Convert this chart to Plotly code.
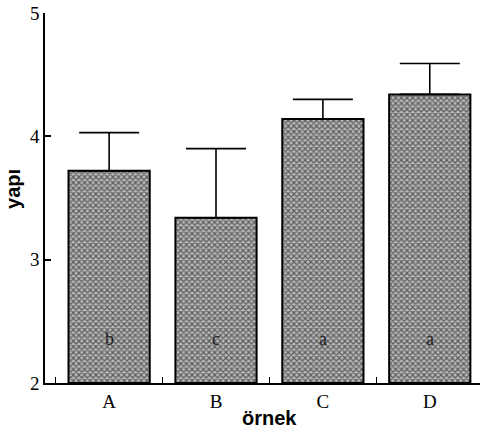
import plotly.graph_objects as go

categories = ["A", "B", "C", "D"]
means = [3.72, 3.34, 4.14, 4.34]
err_plus = [0.31, 0.56, 0.16, 0.25]
letters = ["b", "c", "a", "a"]
y_ticks = [2, 3, 4, 5]

fig = go.Figure()
fig.add_trace(go.Bar(
    x=categories, y=[m - 2 for m in means], base=2,
    width=0.76,
    marker=dict(
        color="white",
        line=dict(color="black", width=2),
        pattern=dict(shape="x", size=4, solidity=0.5, fgcolor="black", bgcolor="#b8b8b8"),
    ),
    error_y=dict(type="data", symmetric=False, array=err_plus, arrayminus=[0] * 4,
                 color="black", thickness=1.6, width=30),
    showlegend=False,
    hoverinfo="skip",
))

for c, l in zip(categories, letters):
    fig.add_annotation(x=c, y=2.36, text=l, showarrow=False,
                       font=dict(family="Liberation Serif", size=18, color="#222"))

fig.add_annotation(xref="paper", yref="paper", x=0.515, y=-0.095, text="<b>örnek</b>",
                   xanchor="center", yanchor="middle",
                   showarrow=False, font=dict(family="Liberation Sans", size=20, color="black"))
fig.add_annotation(xref="paper", yref="paper", x=-0.074, y=0.524, text="<b>yapı</b>",
                   xanchor="center", yanchor="middle",
                   textangle=-90, showarrow=False,
                   font=dict(family="Liberation Sans", size=20, color="black"))

fig.update_layout(
    width=482, height=432,
    margin=dict(l=45, r=2, t=13, b=49),
    plot_bgcolor="white", paper_bgcolor="white",
    xaxis=dict(
        type="category", range=[-0.6, 3.47], automargin=False,
        showline=True, linecolor="black", linewidth=2,
        ticks="inside", ticklen=6, tickwidth=1.2, tickcolor="black",
        tickson="boundaries",
        tickfont=dict(family="Liberation Serif", size=19, color="black"),
        showgrid=False,
    ),
    yaxis=dict(
        range=[2, 5], tickvals=y_ticks, automargin=False,
        showline=True, linecolor="black", linewidth=1.6,
        ticks="inside", ticklen=6, tickwidth=1.6, tickcolor="black",
        tickfont=dict(family="Liberation Serif", size=19, color="black"),
        showgrid=False, zeroline=False,
    ),
)

fig.write_html("out.html", config={"displayModeBar": False},
               post_script="document.body.style.margin='0px';document.body.style.overflow='hidden';")
